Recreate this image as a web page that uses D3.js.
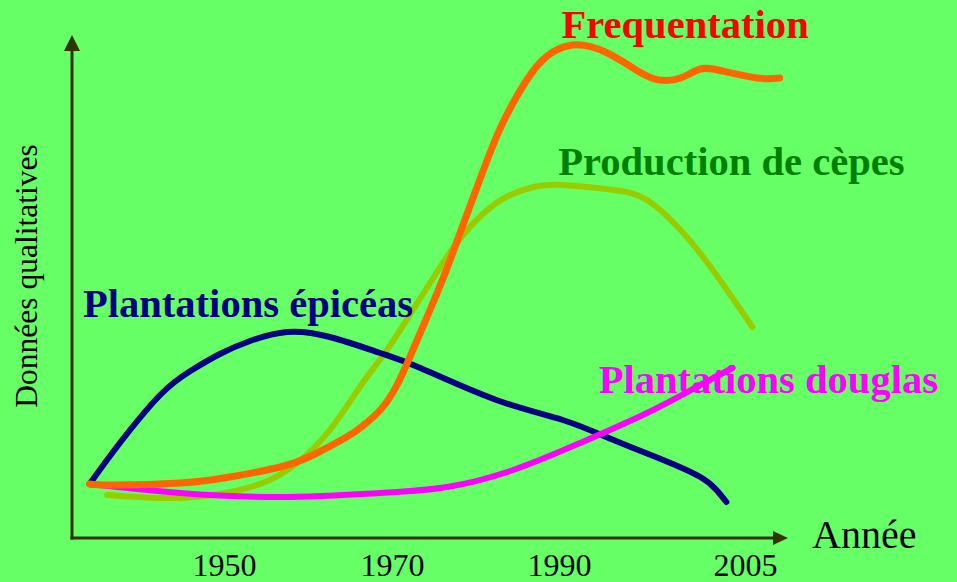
<!DOCTYPE html>
<html>
<head>
<meta charset="utf-8">
<script src="https://cdn.jsdelivr.net/npm/d3@7"></script>
<style>
  html, body { margin: 0; padding: 0; background: #66ff66; }
  svg { display: block; font-family: "Liberation Serif", "Times New Roman", serif; }
</style>
</head>
<body>
<svg id="chart" width="957" height="582"></svg>
<script>
// values (qualitative scale 0-100)
const yearTicks = [1950, 1970, 1990, 2005];

const epiceas = [
  [1934.0, 10.8], [1937.6, 19], [1942.4, 28.6], [1946.0, 33.4], [1949.5, 36.8],
  [1953.1, 39.4], [1957.5, 41.2], [1962.6, 40.2], [1968.6, 37], [1973.4, 34],
  [1982.5, 27.6], [1990.3, 23.6], [1994.4, 19.6], [1998.4, 15.6], [2001.4, 12.2],
  [2002.7, 9.6], [2003.5, 7.2]
];

const cepes = [
  [1936.1, 8.6], [1942.7, 8], [1948.7, 8.6], [1954.6, 11], [1958.7, 15],
  [1962.6, 21.6], [1966.5, 31], [1969.4, 37.6], [1972.5, 45.6], [1975.7, 54],
  [1978.5, 60.6], [1982.5, 67], [1986.5, 70], [1990.3, 70.6], [1994.4, 69.6],
  [1997.1, 67.6], [1999.8, 61.6], [2002.4, 53.6], [2005.6, 42.2]
];

const douglas = [
  [1934.0, 10.8], [1944.8, 9], [1956.7, 8.2], [1968.6, 9], [1976.6, 10.2],
  [1984.5, 13.6], [1991.7, 19], [1997.1, 25], [2001.1, 30.2], [2004.0, 34]
];

const frequentation = [
  [1934.0, 10.8], [1936.8, 10.6], [1944.8, 11], [1950.7, 12.2], [1956.7, 14.2],
  [1960.6, 16.6], [1964.6, 20.2], [1966.5, 22.4], [1968.6, 25.6], [1970.6, 30.6],
  [1972.5, 37.6], [1974.6, 45.8], [1976.6, 54], [1978.5, 62.6], [1980.5, 71.6],
  [1982.5, 80.2], [1984.5, 87], [1987.7, 95], [1991.1, 98.6], [1993.9, 97],
  [1996.5, 93.2], [1998.1, 91.6], [1999.8, 92], [2001.4, 93.8], [2003.2, 93.4],
  [2006.0, 92], [2007.8, 92]
];

// label anchors (year, value)
const labelNames = ["Frequentation", "Production de cèpes", "Plantations épicéas", "Plantations douglas"];
const labelAnchors = [[1990.2, 100], [1989.9, 72.6], [1933.2, 44.2], [1993.2, 29]];

const svg = d3.select("#chart");
const originX = 72, originY = 538;

// tick labels are not evenly spaced in the original, hence the piecewise scale
const x = d3.scaleLinear().domain(yearTicks).range([224, 392, 559, 745]);
const y = d3.scaleLinear().domain([0, 100]).range([originY, 38]);

const line = d3.line()
  .x(d => x(d[0]))
  .y(d => y(d[1]))
  .curve(d3.curveNatural);

const series = [
  { data: cepes, color: "#99cc00", width: 6 },
  { data: epiceas, color: "#000080", width: 6 },
  { data: douglas, color: "#ff00ff", width: 6 },
  { data: frequentation, color: "#ff6600", width: 7 }
];
const labelColors = ["#ff0000", "#008000", "#000080", "#ff00ff"];

// axes
const axisColor = "#333300";
svg.append("line")
  .attr("x1", originX).attr("y1", originY + 1.5)
  .attr("x2", originX).attr("y2", 50)
  .attr("stroke", axisColor).attr("stroke-width", 3);
svg.append("polygon")
  .attr("points", `${originX},35 ${originX - 8},51 ${originX + 8},51`)
  .attr("fill", axisColor);
svg.append("line")
  .attr("x1", originX - 1.5).attr("y1", originY)
  .attr("x2", 775).attr("y2", originY)
  .attr("stroke", axisColor).attr("stroke-width", 3);
svg.append("polygon")
  .attr("points", `788,${originY} 773,${originY - 7} 773,${originY + 7}`)
  .attr("fill", axisColor);

const xAxis = svg.append("g")
  .attr("transform", `translate(0,${originY})`)
  .call(d3.axisBottom(x).tickValues(yearTicks).tickFormat(d3.format("d")).tickSize(0).tickPadding(15));
xAxis.select(".domain").remove();
xAxis.selectAll("text")
  .attr("font-family", "Liberation Serif, Times New Roman, serif")
  .attr("font-size", 32)
  .attr("fill", "#000");

svg.append("text")
  .attr("x", 812).attr("y", 548)
  .attr("font-size", 40)
  .attr("fill", "#000")
  .text("Année");

svg.append("text")
  .attr("transform", "translate(37,276) rotate(-90)")
  .attr("text-anchor", "middle")
  .attr("font-size", 31.5)
  .attr("fill", "#000")
  .text("Données qualitatives");

// curves
svg.append("g").selectAll("path")
  .data(series)
  .join("path")
  .attr("d", d => line(d.data))
  .attr("fill", "none")
  .attr("stroke", d => d.color)
  .attr("stroke-width", d => d.width)
  .attr("stroke-linecap", "round")
  .attr("stroke-linejoin", "round");

// labels
svg.append("g").selectAll("text")
  .data(labelNames)
  .join("text")
  .attr("x", (d, i) => x(labelAnchors[i][0]))
  .attr("y", (d, i) => y(labelAnchors[i][1]))
  .attr("font-size", 40.6)
  .attr("font-weight", "bold")
  .attr("fill", (d, i) => labelColors[i])
  .text(d => d);
</script>
</body>
</html>
